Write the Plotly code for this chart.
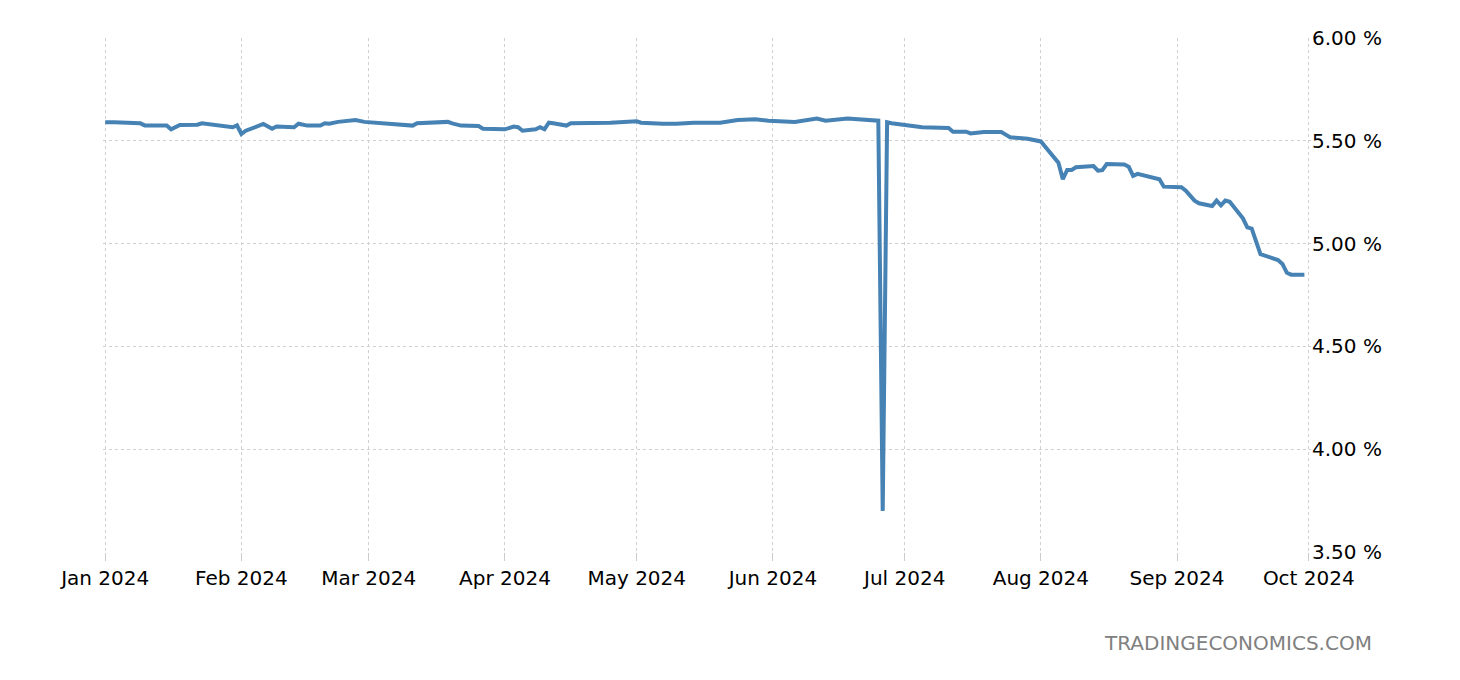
"""
plot.py
=======
Daily yield, Jan-Oct 2024: single line on a right-hand percent axis,
TradingEconomics-style styling with a source watermark bottom right.
"""

import plotly.graph_objects as go

# Values (percent).
dates = [
    "2024-01-01", "2024-01-03", "2024-01-09", "2024-01-10", "2024-01-15",
    "2024-01-16", "2024-01-18", "2024-01-22", "2024-01-23", "2024-01-30",
    "2024-01-31", "2024-02-01", "2024-02-02", "2024-02-06", "2024-02-08",
    "2024-02-09", "2024-02-13", "2024-02-14", "2024-02-16", "2024-02-19",
    "2024-02-20", "2024-02-21", "2024-02-23", "2024-02-27", "2024-02-29",
    "2024-03-04", "2024-03-05", "2024-03-11", "2024-03-12", "2024-03-19",
    "2024-03-20", "2024-03-22", "2024-03-26", "2024-03-27", "2024-04-01",
    "2024-04-03", "2024-04-04", "2024-04-05", "2024-04-08", "2024-04-09",
    "2024-04-10", "2024-04-11", "2024-04-12", "2024-04-15", "2024-04-16",
    "2024-04-19", "2024-04-25", "2024-05-01", "2024-05-02", "2024-05-07",
    "2024-05-10", "2024-05-14", "2024-05-20", "2024-05-24", "2024-05-28",
    "2024-05-31", "2024-06-06", "2024-06-11", "2024-06-13", "2024-06-18",
    "2024-06-25", "2024-06-26", "2024-06-27", "2024-06-28", "2024-07-03",
    "2024-07-05", "2024-07-11", "2024-07-12", "2024-07-15", "2024-07-16",
    "2024-07-19", "2024-07-23", "2024-07-24", "2024-07-25", "2024-07-29",
    "2024-07-31", "2024-08-01", "2024-08-02", "2024-08-05", "2024-08-06",
    "2024-08-07", "2024-08-08", "2024-08-09", "2024-08-13", "2024-08-14",
    "2024-08-15", "2024-08-16", "2024-08-20", "2024-08-21", "2024-08-22",
    "2024-08-23", "2024-08-28", "2024-08-29", "2024-09-02", "2024-09-03",
    "2024-09-05", "2024-09-06", "2024-09-09", "2024-09-10", "2024-09-11",
    "2024-09-12", "2024-09-13", "2024-09-16", "2024-09-17", "2024-09-18",
    "2024-09-20", "2024-09-24", "2024-09-25", "2024-09-26", "2024-09-27",
    "2024-09-30",
]

rates = [
    5.590, 5.590, 5.585, 5.575, 5.575,
    5.556, 5.577, 5.578, 5.585, 5.566,
    5.575, 5.533, 5.549, 5.582, 5.559,
    5.570, 5.566, 5.583, 5.574, 5.574,
    5.585, 5.583, 5.592, 5.601, 5.592,
    5.585, 5.585, 5.574, 5.585, 5.592,
    5.585, 5.574, 5.572, 5.559, 5.556,
    5.569, 5.566, 5.549, 5.556, 5.566,
    5.556, 5.588, 5.585, 5.574, 5.585,
    5.585, 5.588, 5.595, 5.588, 5.583,
    5.583, 5.588, 5.588, 5.601, 5.605,
    5.598, 5.592, 5.608, 5.598, 5.608,
    5.598, 3.700, 5.590, 5.585, 5.572,
    5.566, 5.562, 5.544, 5.544, 5.536,
    5.543, 5.543, 5.530, 5.517, 5.510,
    5.500, 5.497, 5.471, 5.393, 5.313,
    5.358, 5.358, 5.371, 5.377, 5.355,
    5.357, 5.387, 5.385, 5.374, 5.329,
    5.339, 5.313, 5.277, 5.274, 5.257,
    5.209, 5.196, 5.183, 5.209, 5.186,
    5.209, 5.203, 5.123, 5.079, 5.073,
    4.949, 4.920, 4.901, 4.858, 4.849,
    4.849,
]

y_ticks = [3.5, 4.0, 4.5, 5.0, 5.5, 6.0]
y_labels = ["3.50 %", "4.00 %", "4.50 %", "5.00 %", "5.50 %", "6.00 %"]

FONT = "DejaVu Sans"
GRID = "#d0d0d0"

fig = go.Figure()

fig.add_trace(
    go.Scatter(
        x=dates,
        y=rates,
        mode="lines",
        line=dict(color="#4682B4", width=4),
        hoverinfo="skip",
        showlegend=False,
    )
)

# The page body adds an 8px offset, so margins are shifted by that amount.
fig.update_layout(
    width=1460,
    height=680,
    margin=dict(l=95, r=157, t=30, b=136),
    paper_bgcolor="white",
    plot_bgcolor="white",
    font=dict(family=FONT, size=20, color="#000000"),
    showlegend=False,
)

fig.update_xaxes(
    range=["2023-12-31 12:00", "2024-10-01 12:00"],
    dtick="M1",
    tick0="2024-01-01",
    tickformat="%b %Y",
    showgrid=True,
    gridcolor=GRID,
    griddash="dot",
    gridwidth=1,
    ticks="outside",
    ticklen=8,
    tickcolor="#cccccc",
    showline=False,
    zeroline=False,
    tickfont=dict(family=FONT, size=20, color="#000000"),
)

fig.update_yaxes(
    range=[3.5, 6.0],
    side="right",
    tickmode="array",
    tickvals=y_ticks,
    ticktext=y_labels,
    showgrid=True,
    gridcolor=GRID,
    griddash="dot",
    gridwidth=1,
    ticks="",
    showline=False,
    zeroline=False,
    tickfont=dict(family=FONT, size=20, color="#000000"),
)

# Source watermark, bottom right.
fig.add_annotation(
    text="TRADINGECONOMICS.COM",
    xref="paper", yref="paper",
    x=1.052, y=-0.177,
    xanchor="right", yanchor="middle",
    showarrow=False,
    font=dict(family=FONT, size=20, color="#808080"),
)

fig.write_html("out.html")
